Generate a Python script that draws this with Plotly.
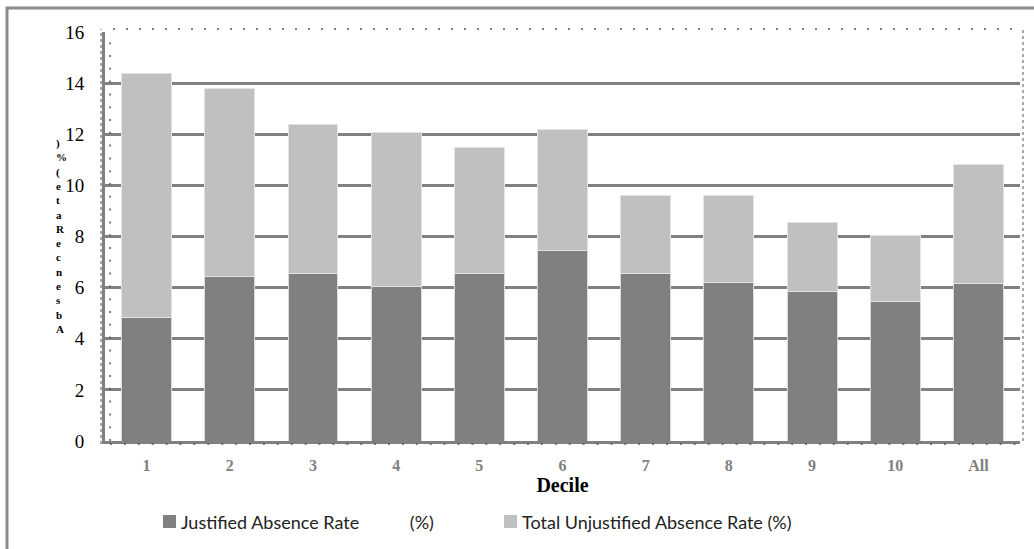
import plotly.graph_objects as go

# Absence rates by decile (stacked: justified + unjustified)
deciles = ["1", "2", "3", "4", "5", "6", "7", "8", "9", "10", "All"]
justified = [4.83, 6.43, 6.55, 6.03, 6.55, 7.45, 6.55, 6.22, 5.84, 5.46, 6.18]
unjustified = [9.53, 7.35, 5.83, 6.02, 4.93, 4.73, 3.07, 3.38, 2.72, 2.57, 4.62]

series_names = ["Justified Absence Rate", "Total Unjustified Absence Rate (%)"]
series_colors = ["#808080", "#c0c0c0"]

y_ticks = [0, 2, 4, 6, 8, 10, 12, 14, 16]
y_title = "Absence Rate (%)"

W, H = 1034, 549
L, R, T, B = 105, 14, 32, 108
PW, PH = W - L - R, H - T - B


def px(x):
    return (x - L) / PW


def py(y):
    return (H - B - y) / PH


fig = go.Figure()
for name, vals, col, edge in zip(series_names, [justified, unjustified], series_colors,
                                 ["#d9d9d9", "#e3e3e3"]):
    fig.add_trace(go.Bar(
        x=deciles, y=vals, name=name, showlegend=False,
        marker=dict(color=col, line=dict(color=edge, width=1)),
    ))

shapes = [
    # outer frame
    dict(type="rect", xref="paper", yref="paper", x0=px(7), y0=py(560), x1=px(1050), y1=py(8),
         line=dict(color="#8c8c8c", width=3), layer="below"),
    # dotted selection frame around the plot area
    dict(type="line", xref="paper", yref="paper", x0=px(101), x1=px(101), y0=py(444), y1=py(29),
         line=dict(color="#555555", width=1, dash="dot")),
    dict(type="line", xref="paper", yref="paper", x0=px(1023), x1=px(1023), y0=py(441), y1=py(29),
         line=dict(color="#555555", width=1, dash="dot")),
    dict(type="line", xref="paper", yref="paper", x0=px(113), x1=px(1023), y0=py(29), y1=py(29),
         line=dict(color="#555555", width=1.5, dash="2px,11px")),
    dict(type="line", xref="paper", yref="paper", x0=px(110), x1=px(110), y0=py(441), y1=py(32),
         line=dict(color="#555555", width=1.5, dash="2px,10.8px")),
    dict(type="line", xref="paper", yref="paper", x0=px(110), x1=px(1020), y0=py(444), y1=py(444),
         line=dict(color="#555555", width=1.5, dash="2px,11.9px")),
]

annotations = []

# vertical stacked y-axis title, one character per line, read bottom to top
stacked = "<br>".join(ch for ch in reversed(y_title) if ch != " ")
annotations.append(dict(
    text=stacked, xref="paper", yref="paper", x=px(54), y=py(236), xanchor="left", yanchor="middle",
    align="left", showarrow=False,
    font=dict(family="Liberation Serif", size=11, color="#000000", weight="bold"),
))

# legend: colour key squares with their labels
legend_labels = ["Justified Absence Rate" + "\u00a0" * 11 + "(%)", series_names[1]]
key_x = [163, 504]
for lab, col, kx in zip(legend_labels, series_colors, key_x):
    shapes.append(dict(type="rect", xref="paper", yref="paper",
                       x0=px(kx), x1=px(kx + 13), y0=py(528), y1=py(515),
                       fillcolor=col, line=dict(width=0)))
    annotations.append(dict(
        text=lab, xref="paper", yref="paper", x=px(kx + 16), y=py(522),
        xanchor="left", yanchor="middle", showarrow=False,
        font=dict(family="Lato", size=18, color="#222222"),
    ))

fig.update_layout(
    width=W, height=H,
    margin=dict(l=L, r=R, t=T, b=B),
    barmode="stack", bargap=0.4,
    plot_bgcolor="white", paper_bgcolor="white",
    shapes=shapes, annotations=annotations,
    showlegend=False,
    xaxis=dict(
        showgrid=False, showline=True, linecolor="#808080", linewidth=3,
        tickfont=dict(family="Liberation Serif", size=16, color="#808080", weight="bold"),
        ticklabelstandoff=8,
        title=dict(text="<b>Decile</b>", font=dict(family="Liberation Serif", size=20, color="#000000"),
                   standoff=4),
    ),
    yaxis=dict(
        range=[0, 16], tickvals=y_ticks, ticktext=[str(v) for v in y_ticks],
        showgrid=True, gridcolor="#808080", gridwidth=2.5,
        showline=True, linecolor="#808080", linewidth=3,
        zeroline=False,
        tickfont=dict(family="Liberation Serif", size=19, color="#000000"),
        ticklabelstandoff=14,
    ),
)

fig.write_html("out.html")
